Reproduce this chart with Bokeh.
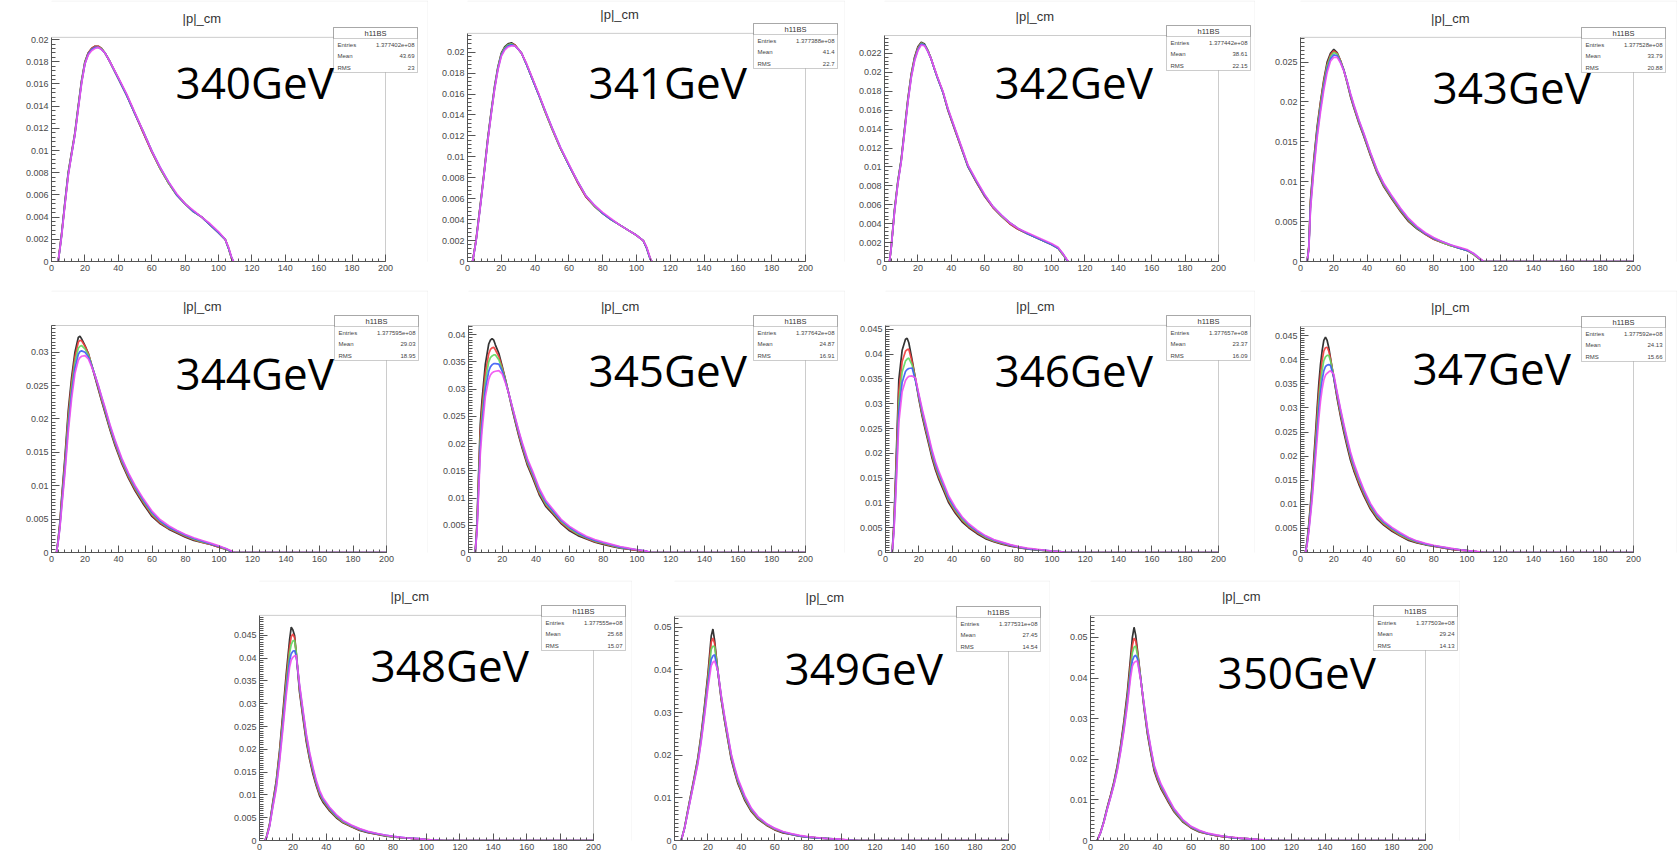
from bokeh.plotting import figure
from bokeh.models import FixedTicker, Label, BoxAnnotation, Spacer, Range1d, PrintfTickFormatter
from bokeh.layouts import row, column
from bokeh.embed import file_html
from bokeh.resources import INLINE

# ---------------- data (histogram values in units of 1e-4) ----------------
ENERGIES = ["340GeV", "341GeV", "342GeV", "343GeV", "344GeV", "345GeV",
            "346GeV", "347GeV", "348GeV", "349GeV", "350GeV"]
ENTRIES = ["1.377402e+08", "1.377388e+08", "1.377442e+08", "1.377528e+08",
           "1.377595e+08", "1.377642e+08", "1.377657e+08", "1.377592e+08",
           "1.377555e+08", "1.377531e+08", "1.377503e+08"]
MEANS = ["43.69", "41.4", "38.61", "33.79", "29.03", "24.87", "23.37",
         "24.13", "25.68", "27.45", "29.24"]
RMS = ["23", "22.7", "22.15", "20.88", "18.95", "16.91", "16.09", "15.66",
       "15.07", "14.54", "14.13"]
Y_MAX = [0.0202, 0.0218, 0.0239, 0.0281, 0.0340, 0.0417, 0.0458, 0.0469,
         0.0494, 0.0526, 0.0554]
X_TICKS = [0, 20, 40, 60, 80, 100, 120, 140, 160, 180, 200]

YT_340 = ["0", "0.002", "0.004", "0.006", "0.008", "0.01", "0.012", "0.014", "0.016", "0.018", "0.02"]
YT_341 = ["0", "0.002", "0.004", "0.006", "0.008", "0.01", "0.012", "0.014", "0.016", "0.018", "0.02"]
YT_342 = ["0", "0.002", "0.004", "0.006", "0.008", "0.01", "0.012", "0.014", "0.016", "0.018", "0.02", "0.022"]
YT_343 = ["0", "0.005", "0.01", "0.015", "0.02", "0.025"]
YT_344 = ["0", "0.005", "0.01", "0.015", "0.02", "0.025", "0.03"]
YT_345 = ["0", "0.005", "0.01", "0.015", "0.02", "0.025", "0.03", "0.035", "0.04"]
YT_346 = ["0", "0.005", "0.01", "0.015", "0.02", "0.025", "0.03", "0.035", "0.04", "0.045"]
YT_347 = ["0", "0.005", "0.01", "0.015", "0.02", "0.025", "0.03", "0.035", "0.04", "0.045"]
YT_348 = ["0", "0.005", "0.01", "0.015", "0.02", "0.025", "0.03", "0.035", "0.04", "0.045"]
YT_349 = ["0", "0.01", "0.02", "0.03", "0.04", "0.05"]
YT_350 = ["0", "0.01", "0.02", "0.03", "0.04", "0.05"]

X_340 = [4, 5, 6, 8, 10, 12, 14, 16, 18, 20, 22, 24, 26, 28, 30, 32, 35, 40, 45, 50, 55, 60, 65, 70, 75, 80, 85, 90, 95, 100, 104, 106, 108, 109]
K_340 = [0, 12, 24, 53, 80, 98, 116, 140, 163, 180, 188, 192, 194, 194, 192, 188, 180, 165, 150, 133, 116, 99, 84, 71, 60, 52, 45, 40, 33, 26, 20, 12, 2, 0]
R_340 = [0, 12, 24, 52, 79, 97, 115, 139, 162, 179, 188, 192, 194, 194, 192, 188, 180, 165, 150, 133, 116, 99, 84, 71, 60, 52, 45, 40, 33, 26, 20, 12, 2, 0]
G_340 = [0, 11, 23, 52, 79, 97, 115, 139, 162, 179, 187, 191, 193, 193, 192, 188, 180, 165, 150, 133, 117, 100, 84, 71, 60, 52, 45, 40, 33, 26, 20, 12, 2, 0]
B_340 = [0, 11, 23, 51, 78, 96, 114, 138, 161, 178, 187, 191, 193, 193, 191, 188, 180, 165, 150, 133, 117, 100, 85, 72, 60, 52, 45, 40, 33, 26, 20, 12, 3, 0]
M_340 = [0, 11, 22, 50, 77, 96, 114, 137, 160, 178, 186, 190, 192, 193, 191, 188, 180, 166, 151, 134, 117, 100, 85, 72, 61, 52, 46, 40, 34, 27, 20, 13, 3, 0]

X_341 = [3, 4, 5, 6, 8, 10, 12, 14, 16, 18, 20, 22, 24, 26, 28, 30, 32, 35, 38, 42, 46, 50, 55, 60, 65, 70, 75, 80, 85, 90, 95, 100, 104, 106, 108, 109]
K_341 = [0, 10, 20, 33, 60, 88, 118, 143, 167, 186, 199, 205, 208, 209, 207, 203, 199, 188, 176, 160, 143, 127, 108, 92, 76, 62, 53, 46, 40, 35, 30, 25, 20, 13, 3, 0]
R_341 = [0, 10, 20, 33, 59, 87, 117, 142, 166, 185, 198, 204, 207, 208, 207, 203, 199, 188, 176, 160, 143, 127, 108, 92, 76, 62, 53, 46, 40, 35, 30, 25, 20, 13, 3, 0]
G_341 = [0, 10, 19, 32, 59, 87, 116, 142, 166, 185, 198, 204, 207, 208, 206, 203, 199, 188, 176, 160, 143, 127, 108, 92, 77, 63, 53, 46, 40, 35, 30, 25, 20, 13, 3, 0]
B_341 = [0, 9, 19, 32, 58, 86, 116, 141, 165, 184, 197, 203, 206, 207, 206, 203, 199, 188, 176, 160, 144, 128, 109, 92, 77, 63, 54, 46, 40, 35, 30, 25, 20, 13, 3, 0]
M_341 = [0, 9, 19, 31, 58, 86, 115, 140, 164, 183, 196, 202, 205, 206, 206, 203, 199, 189, 177, 161, 144, 128, 109, 93, 77, 63, 54, 47, 41, 35, 30, 25, 20, 14, 4, 0]

X_342 = [3, 4, 5, 6, 8, 10, 12, 14, 16, 18, 20, 22, 24, 26, 28, 30, 32, 35, 38, 42, 46, 50, 55, 60, 65, 70, 75, 80, 85, 90, 95, 100, 104, 107, 109, 110]
K_342 = [0, 15, 35, 55, 85, 108, 140, 172, 198, 216, 227, 232, 230, 223, 214, 203, 193, 179, 160, 140, 120, 100, 84, 69, 57, 48, 40, 34, 30, 26, 22, 18, 14, 7, 2, 0]
R_342 = [0, 15, 34, 54, 84, 107, 139, 171, 197, 215, 226, 231, 229, 223, 214, 203, 193, 179, 160, 140, 120, 101, 84, 69, 57, 48, 40, 34, 30, 26, 22, 18, 14, 7, 2, 0]
G_342 = [0, 14, 34, 54, 84, 107, 138, 170, 196, 214, 225, 231, 229, 223, 214, 203, 193, 179, 161, 141, 121, 101, 85, 70, 58, 48, 41, 35, 30, 26, 22, 18, 14, 7, 2, 0]
B_342 = [0, 14, 33, 53, 83, 106, 137, 169, 195, 213, 224, 230, 229, 222, 214, 203, 193, 179, 161, 141, 121, 101, 85, 70, 58, 49, 41, 35, 30, 26, 22, 18, 14, 8, 2, 0]
M_342 = [0, 14, 33, 52, 82, 105, 136, 168, 194, 212, 223, 229, 228, 222, 214, 204, 194, 180, 162, 142, 122, 102, 86, 71, 58, 49, 41, 35, 31, 27, 23, 19, 15, 8, 3, 0]

X_343 = [4, 5, 6, 8, 10, 12, 14, 16, 18, 20, 22, 24, 26, 28, 30, 32, 35, 38, 42, 46, 50, 55, 60, 65, 70, 75, 80, 85, 90, 95, 100, 104, 107, 109, 110, 120, 140, 160, 180, 200]
K_343 = [0, 19, 77, 128, 169, 200, 228, 250, 261, 266, 262, 252, 240, 224, 207, 193, 174, 157, 133, 111, 94, 78, 63, 50, 41, 34, 28, 24, 20, 17, 14, 9, 4, 1, 0, 0, 0, 0, 0, 0]
R_343 = [0, 18, 74, 125, 166, 198, 226, 247, 259, 264, 261, 252, 240, 225, 208, 194, 175, 158, 134, 112, 95, 79, 64, 51, 42, 34, 28, 24, 20, 17, 14, 9, 4, 1, 0, 0, 0, 0, 0, 0]
G_343 = [0, 17, 71, 122, 163, 195, 223, 245, 257, 262, 260, 251, 240, 225, 209, 195, 176, 159, 135, 113, 96, 80, 65, 52, 42, 35, 29, 24, 20, 17, 14, 9, 4, 1, 0, 0, 0, 0, 0, 0]
B_343 = [0, 16, 68, 118, 159, 191, 219, 241, 254, 259, 258, 250, 240, 226, 210, 196, 177, 160, 136, 114, 97, 81, 66, 53, 43, 35, 29, 25, 21, 17, 14, 10, 5, 1, 0, 0, 0, 0, 0, 0]
M_343 = [0, 15, 65, 114, 155, 187, 215, 237, 251, 256, 256, 249, 239, 226, 211, 197, 178, 161, 137, 115, 98, 82, 67, 54, 44, 36, 30, 25, 21, 18, 15, 10, 5, 2, 0, 0, 0, 0, 0, 0]

X_344 = [3, 4, 5, 6, 8, 10, 12, 14, 16, 17, 18, 20, 22, 24, 26, 28, 30, 32, 35, 38, 42, 46, 50, 55, 60, 65, 70, 75, 80, 85, 90, 95, 100, 104, 107, 109, 110, 120, 140, 160, 180, 200]
K_344 = [0, 20, 45, 80, 142, 212, 262, 300, 322, 324, 320, 310, 298, 280, 262, 244, 226, 209, 183, 160, 133, 111, 92, 72, 54, 43, 35, 29, 23, 18, 15, 12, 8, 5, 2, 0, 0, 0, 0, 0, 0, 0]
R_344 = [0, 19, 42, 76, 136, 204, 255, 293, 315, 318, 317, 309, 298, 281, 264, 246, 228, 211, 185, 162, 135, 113, 94, 74, 56, 44, 36, 30, 24, 19, 15, 12, 8, 5, 2, 0, 0, 0, 0, 0, 0, 0]
G_344 = [0, 18, 40, 72, 130, 196, 247, 285, 306, 309, 310, 305, 296, 281, 265, 248, 230, 213, 187, 164, 137, 115, 96, 76, 58, 46, 37, 31, 25, 20, 16, 13, 9, 5, 2, 0, 0, 0, 0, 0, 0, 0]
B_344 = [0, 17, 38, 68, 124, 188, 238, 276, 297, 301, 302, 300, 293, 280, 265, 249, 232, 215, 189, 166, 139, 117, 98, 78, 60, 47, 38, 32, 26, 21, 17, 13, 9, 6, 2, 0, 0, 0, 0, 0, 0, 0]
M_344 = [0, 16, 36, 64, 118, 180, 230, 268, 288, 292, 294, 295, 290, 278, 265, 250, 233, 217, 191, 168, 141, 119, 100, 80, 62, 49, 40, 33, 27, 22, 18, 14, 10, 6, 3, 0, 0, 0, 0, 0, 0, 0]

X_345 = [4, 5, 6, 7, 8, 10, 12, 13, 14, 15, 16, 18, 20, 22, 24, 26, 28, 30, 32, 35, 38, 42, 46, 50, 55, 60, 65, 70, 75, 80, 85, 90, 95, 100, 105, 108, 110, 120, 140, 160, 180, 200]
K_345 = [0, 52, 144, 236, 279, 346, 383, 390, 393, 390, 381, 366, 342, 317, 290, 262, 237, 212, 190, 160, 138, 106, 84, 71, 53, 40, 31, 25, 19, 15, 11, 8, 6, 4, 2, 0, 0, 0, 0, 0, 0, 0]
R_345 = [0, 48, 135, 222, 265, 330, 365, 373, 376, 377, 372, 360, 340, 316, 291, 264, 239, 215, 193, 163, 141, 109, 87, 73, 55, 42, 33, 26, 20, 16, 12, 9, 6, 4, 2, 0, 0, 0, 0, 0, 0, 0]
G_345 = [0, 44, 126, 208, 250, 315, 350, 358, 361, 363, 363, 354, 337, 315, 291, 266, 241, 218, 196, 166, 144, 112, 89, 75, 57, 44, 34, 27, 21, 17, 13, 9, 7, 5, 2, 0, 0, 0, 0, 0, 0, 0]
B_345 = [0, 40, 117, 194, 236, 300, 333, 341, 345, 347, 347, 346, 333, 313, 291, 267, 243, 220, 198, 169, 147, 115, 92, 77, 59, 46, 36, 28, 22, 18, 14, 10, 7, 5, 3, 0, 0, 0, 0, 0, 0, 0]
M_345 = [0, 36, 108, 180, 222, 286, 318, 326, 330, 332, 333, 334, 328, 311, 291, 268, 245, 222, 201, 172, 150, 118, 95, 80, 61, 48, 38, 30, 24, 19, 15, 11, 8, 5, 3, 0, 0, 0, 0, 0, 0, 0]

X_346 = [4, 5, 6, 7, 8, 10, 12, 13, 14, 16, 18, 20, 22, 24, 26, 28, 30, 32, 35, 38, 42, 46, 50, 55, 60, 65, 70, 75, 80, 85, 90, 95, 100, 105, 108, 110, 120, 140, 160, 180, 200]
K_346 = [0, 57, 147, 248, 348, 408, 430, 432, 423, 388, 350, 310, 275, 246, 218, 190, 167, 148, 124, 100, 79, 62, 50, 38, 28, 22, 17, 13, 10, 7, 5, 4, 3, 1, 0, 0, 0, 0, 0, 0, 0]
R_346 = [0, 52, 135, 230, 325, 385, 406, 409, 410, 384, 350, 313, 279, 250, 222, 194, 171, 152, 128, 104, 82, 65, 52, 40, 30, 23, 18, 14, 10, 8, 6, 4, 3, 1, 0, 0, 0, 0, 0, 0, 0]
G_346 = [0, 47, 124, 212, 303, 364, 386, 390, 392, 378, 349, 315, 282, 254, 226, 198, 175, 156, 131, 107, 85, 67, 54, 42, 31, 24, 19, 15, 11, 8, 6, 4, 3, 2, 0, 0, 0, 0, 0, 0, 0]
B_346 = [0, 42, 113, 195, 282, 343, 365, 369, 371, 372, 346, 317, 286, 258, 230, 202, 179, 160, 135, 110, 88, 70, 56, 43, 33, 25, 20, 15, 11, 8, 6, 5, 3, 2, 0, 0, 0, 0, 0, 0, 0]
M_346 = [0, 38, 103, 179, 262, 324, 347, 352, 355, 356, 352, 320, 290, 262, 234, 206, 183, 164, 139, 114, 91, 72, 58, 45, 34, 26, 21, 16, 12, 9, 7, 5, 3, 2, 0, 0, 0, 0, 0, 0, 0]

X_347 = [3, 4, 5, 6, 7, 8, 9, 10, 11, 12, 13, 14, 15, 16, 17, 18, 20, 22, 24, 26, 28, 30, 32, 35, 38, 42, 46, 50, 55, 60, 65, 70, 75, 80, 85, 90, 95, 100, 105, 110, 120, 140, 160, 180, 200]
K_347 = [0, 25, 59, 100, 142, 195, 246, 300, 350, 390, 419, 440, 447, 440, 425, 404, 362, 320, 283, 250, 220, 192, 170, 142, 118, 90, 70, 57, 44, 34, 25, 20, 16, 13, 10, 7, 5, 4, 2, 0, 0, 0, 0, 0, 0]
R_347 = [0, 23, 55, 94, 134, 184, 233, 284, 332, 370, 398, 418, 425, 426, 418, 402, 364, 324, 288, 255, 225, 197, 174, 146, 121, 93, 73, 59, 46, 35, 27, 21, 17, 13, 10, 7, 5, 4, 2, 0, 0, 0, 0, 0, 0]
G_347 = [0, 21, 51, 88, 126, 173, 220, 268, 314, 351, 378, 398, 406, 409, 409, 398, 366, 328, 292, 259, 229, 201, 178, 150, 125, 96, 75, 61, 48, 37, 28, 22, 17, 14, 11, 8, 6, 4, 2, 0, 0, 0, 0, 0, 0]
B_347 = [0, 19, 47, 82, 118, 162, 207, 252, 296, 332, 358, 377, 386, 389, 390, 388, 364, 330, 296, 263, 233, 205, 182, 154, 128, 99, 78, 63, 50, 39, 30, 23, 18, 14, 11, 8, 6, 4, 2, 0, 0, 0, 0, 0, 0]
M_347 = [0, 17, 43, 76, 110, 151, 194, 236, 278, 313, 339, 358, 368, 372, 375, 377, 370, 333, 299, 267, 237, 209, 186, 157, 131, 102, 80, 65, 52, 41, 31, 24, 19, 15, 12, 9, 6, 4, 3, 0, 0, 0, 0, 0, 0]

X_348 = [3, 4, 6, 8, 10, 12, 14, 16, 18, 19, 20, 21, 22, 24, 26, 28, 30, 32, 34, 36, 38, 42, 46, 50, 55, 60, 65, 70, 75, 80, 85, 90, 95, 100, 105, 110, 120, 140, 160, 180, 200]
K_348 = [0, 5, 35, 85, 130, 197, 280, 365, 440, 468, 462, 450, 410, 325, 270, 217, 178, 146, 120, 98, 84, 65, 50, 39, 30, 22, 17, 14, 10, 8, 6, 5, 3, 2, 1, 0, 0, 0, 0, 0, 0]
R_348 = [0, 5, 34, 82, 126, 191, 271, 353, 425, 447, 453, 445, 412, 330, 275, 222, 182, 150, 123, 101, 87, 67, 52, 40, 31, 23, 18, 14, 11, 8, 6, 5, 3, 2, 1, 0, 0, 0, 0, 0, 0]
G_348 = [0, 5, 33, 79, 122, 185, 262, 342, 411, 430, 438, 439, 414, 335, 280, 227, 186, 154, 126, 104, 89, 69, 53, 41, 32, 24, 19, 15, 11, 8, 6, 5, 4, 2, 1, 0, 0, 0, 0, 0, 0]
B_348 = [0, 4, 31, 76, 117, 178, 252, 329, 394, 410, 415, 417, 405, 338, 284, 231, 190, 157, 129, 107, 91, 71, 55, 43, 33, 25, 19, 15, 12, 9, 7, 5, 4, 2, 1, 0, 0, 0, 0, 0, 0]
M_348 = [0, 4, 30, 73, 113, 172, 244, 318, 380, 396, 402, 405, 406, 342, 288, 235, 194, 161, 132, 110, 94, 73, 57, 44, 34, 26, 20, 16, 12, 9, 7, 5, 4, 2, 1, 0, 0, 0, 0, 0, 0]

X_349 = [4, 6, 8, 10, 12, 14, 16, 18, 20, 22, 23, 24, 26, 28, 30, 32, 34, 36, 38, 42, 46, 50, 55, 60, 65, 70, 75, 80, 85, 90, 95, 100, 105, 110, 120, 140, 160, 180, 200]
K_349 = [0, 30, 72, 112, 152, 194, 250, 317, 390, 480, 496, 470, 395, 330, 280, 235, 190, 160, 133, 95, 68, 50, 36, 25, 18, 14, 10, 8, 6, 5, 3, 2, 1, 0, 0, 0, 0, 0, 0]
R_349 = [0, 29, 70, 110, 149, 190, 245, 310, 382, 465, 475, 462, 395, 333, 283, 238, 194, 163, 136, 98, 70, 52, 37, 26, 19, 14, 10, 8, 6, 5, 3, 2, 1, 0, 0, 0, 0, 0, 0]
G_349 = [0, 29, 69, 108, 147, 187, 241, 305, 374, 448, 456, 455, 397, 336, 286, 241, 197, 166, 139, 100, 72, 53, 38, 27, 20, 15, 11, 8, 6, 5, 4, 2, 1, 0, 0, 0, 0, 0, 0]
B_349 = [0, 28, 67, 106, 144, 183, 236, 298, 365, 425, 433, 436, 396, 338, 289, 244, 200, 169, 142, 103, 74, 55, 39, 28, 20, 15, 11, 8, 6, 5, 4, 2, 1, 0, 0, 0, 0, 0, 0]
M_349 = [0, 28, 66, 104, 142, 180, 232, 292, 357, 410, 418, 421, 398, 340, 292, 247, 203, 172, 145, 106, 76, 56, 40, 29, 21, 16, 12, 9, 7, 5, 4, 3, 1, 0, 0, 0, 0, 0, 0]

X_350 = [4, 6, 8, 10, 12, 14, 16, 18, 20, 22, 24, 25, 26, 27, 28, 30, 32, 34, 36, 38, 40, 42, 46, 50, 55, 60, 65, 70, 75, 80, 85, 90, 95, 100, 105, 110, 120, 140, 160, 180, 200]
K_350 = [0, 20, 48, 82, 112, 145, 185, 235, 295, 365, 455, 500, 525, 505, 470, 398, 325, 262, 215, 172, 148, 128, 98, 70, 46, 31, 21, 16, 12, 9, 7, 5, 4, 2, 1, 0, 0, 0, 0, 0, 0]
R_350 = [0, 20, 47, 80, 110, 142, 181, 230, 288, 355, 440, 480, 498, 492, 465, 398, 328, 266, 219, 176, 151, 131, 100, 72, 48, 32, 22, 16, 12, 9, 7, 5, 4, 2, 1, 0, 0, 0, 0, 0, 0]
G_350 = [0, 19, 46, 79, 108, 140, 178, 226, 282, 347, 427, 462, 476, 479, 458, 398, 331, 270, 223, 180, 155, 134, 103, 74, 49, 33, 23, 17, 13, 10, 7, 5, 4, 2, 1, 0, 0, 0, 0, 0, 0]
B_350 = [0, 19, 46, 78, 107, 138, 175, 222, 276, 339, 414, 443, 453, 456, 448, 396, 333, 273, 226, 183, 158, 137, 105, 76, 51, 34, 24, 17, 13, 10, 7, 5, 4, 2, 1, 0, 0, 0, 0, 0, 0]
M_350 = [0, 19, 45, 77, 106, 136, 172, 218, 271, 332, 403, 429, 438, 441, 442, 394, 335, 276, 229, 186, 161, 140, 108, 78, 52, 35, 25, 18, 14, 10, 8, 6, 4, 3, 1, 0, 0, 0, 0, 0, 0]

PANEL_DATA = [
    (X_340, [K_340, R_340, G_340, B_340, M_340], YT_340),
    (X_341, [K_341, R_341, G_341, B_341, M_341], YT_341),
    (X_342, [K_342, R_342, G_342, B_342, M_342], YT_342),
    (X_343, [K_343, R_343, G_343, B_343, M_343], YT_343),
    (X_344, [K_344, R_344, G_344, B_344, M_344], YT_344),
    (X_345, [K_345, R_345, G_345, B_345, M_345], YT_345),
    (X_346, [K_346, R_346, G_346, B_346, M_346], YT_346),
    (X_347, [K_347, R_347, G_347, B_347, M_347], YT_347),
    (X_348, [K_348, R_348, G_348, B_348, M_348], YT_348),
    (X_349, [K_349, R_349, G_349, B_349, M_349], YT_349),
    (X_350, [K_350, R_350, G_350, B_350, M_350], YT_350),
]
UNIT = 1e-4
X_MAX = 200

# ---------------- layout / style ----------------
COLORS = ["#1e1e1e", "#f03c3c", "#5fd85f", "#3c5cf5", "#f050f0"]
SMALL_FONT = "Liberation Sans"
BIG_FONT = "Open Sans"
# (fig width, fig height, ROOT-frame border left, right, top, bottom, big label x, big label y)
LAYOUT = [
    (428, 290, 51, 43, 37, 28, 175, 81),
    (417, 290, 39, 40, 33, 28, 160, 81),
    (410, 290, 39, 37, 35, 29, 149, 81),
    (422, 290, 45, 44, 37, 28, 177, 86),
    (428, 290, 51, 42, 35, 28, 175, 82),
    (417, 290, 40, 40, 35, 28, 160, 79),
    (410, 290, 40, 37, 35, 27, 149, 79),
    (422, 290, 45, 44, 36, 28, 157, 77),
    (410, 286, 37, 39, 35, 25, 148, 84),
    (418, 286, 42, 42, 36, 24, 152, 87),
    (410, 286, 40, 35, 35, 26, 167, 91),
]


def canvas_box(l, r, t, b, **kw):
    return BoxAnnotation(left=l, right=r, top=t, bottom=b,
                         left_units="canvas", right_units="canvas",
                         top_units="canvas", bottom_units="canvas", **kw)


def canvas_label(x, y, text, **kw):
    return Label(x=x, y=y, x_units="canvas", y_units="canvas", text=text, **kw)


def make_panel(i):
    xs, series, ytl = PANEL_DATA[i]
    w, h, bl, br, bt, bb, lx, ly = LAYOUT[i]
    # the Bokeh frame extends to the top/right edges of the figure so that the
    # title and stats box (outside the ROOT frame) are not clipped
    x_end = X_MAX * (w - bl) / (w - bl - br)
    y_end = Y_MAX[i] * (h - bb) / (h - bb - bt)
    p = figure(width=w, height=h, output_backend="svg", toolbar_location=None,
               x_range=Range1d(0, x_end), y_range=Range1d(0, y_end),
               min_border_left=bl, min_border_right=0,
               min_border_top=0, min_border_bottom=bb)
    p.xgrid.visible = False
    p.ygrid.visible = False
    p.background_fill_color = "white"
    p.border_fill_color = "white"
    p.outline_line_color = None

    for ys, col in zip(series, COLORS):
        p.line(xs, [v * UNIT for v in ys], line_color=col, line_width=1.7, line_alpha=0.9)

    # ROOT frame box
    p.add_layout(BoxAnnotation(left=0, right=X_MAX, bottom=0, top=Y_MAX[i],
                               fill_alpha=0, line_color="#555555", line_width=1))

    xminor = list(range(0, X_MAX + 1, 4))
    p.xaxis.ticker = FixedTicker(ticks=X_TICKS, minor_ticks=xminor)
    p.xaxis.bounds = (0, X_MAX)
    yt = [float(s) for s in ytl]
    step = yt[1] - yt[0]
    nsub = 5 if abs(step - 0.002) < 1e-9 else 10
    yminor = []
    k = 0
    while k * step / nsub <= Y_MAX[i] + 1e-12:
        yminor.append(k * step / nsub)
        k += 1
    p.yaxis.ticker = FixedTicker(ticks=yt, minor_ticks=yminor)
    p.yaxis.formatter = PrintfTickFormatter(format="%g")
    p.yaxis.bounds = (0, Y_MAX[i])
    for ax in (p.xaxis[0], p.yaxis[0]):
        ax.axis_line_color = "#555555"
        ax.major_tick_line_color = "#555555"
        ax.minor_tick_line_color = "#555555"
        ax.major_tick_out = 0
        ax.minor_tick_out = 0
        ax.major_label_text_font = SMALL_FONT
        ax.major_label_text_font_size = "9px"
        ax.major_label_text_color = "#4a4a4a"
        ax.major_label_standoff = 3
    p.xaxis.major_tick_in = 7
    p.xaxis.minor_tick_in = 3
    p.yaxis.major_tick_in = 8
    p.yaxis.minor_tick_in = 4

    fl, fr, ft = bl, w - br, bt
    fw = fr - fl
    # screenshot border (top / right edges)
    p.add_layout(canvas_box(0.5, w - 0.5, 0.5, h - 0.5, fill_alpha=0,
                            line_color="#cfcfcf", line_width=1))
    # histogram title
    p.add_layout(canvas_label(fl + 0.45 * fw, ft - 19, "|p|_cm", text_font=SMALL_FONT,
                              text_font_size="13px", text_color="#333333",
                              text_align="center", text_baseline="middle"))
    # stats box
    sl, sr, st, sb = fr - 52, fr + 32, ft - 10, ft + 35
    p.add_layout(canvas_box(sl, sr, st, sb, fill_color="white", fill_alpha=1,
                            line_color="#555555", line_width=1))
    p.add_layout(canvas_box(sl, sr, st, st + 11, fill_alpha=0,
                            line_color="#555555", line_width=1))
    p.add_layout(canvas_label((sl + sr) / 2, st + 6, "h11BS", text_font=SMALL_FONT,
                              text_font_size="7.5px", text_color="#333333",
                              text_align="center", text_baseline="middle"))
    for j, (name, val) in enumerate([("Entries", ENTRIES[i]), ("Mean", MEANS[i]), ("RMS", RMS[i])]):
        yy = st + 17 + j * 11.5
        p.add_layout(canvas_label(sl + 4, yy, name, text_font=SMALL_FONT, text_font_size="6px",
                                  text_color="#444444", text_align="left", text_baseline="middle"))
        p.add_layout(canvas_label(sr - 3, yy, val, text_font=SMALL_FONT, text_font_size="6px",
                                  text_color="#444444", text_align="right", text_baseline="middle"))
    # big energy label
    p.add_layout(canvas_label(lx, ly, ENERGIES[i], text_font=BIG_FONT, text_font_size="44px",
                              text_color="black", text_align="left", text_baseline="alphabetic"))
    return p


panels = [make_panel(i) for i in range(11)]
layout = column(
    row(panels[0], panels[1], panels[2], panels[3]),
    row(panels[4], panels[5], panels[6], panels[7]),
    row(Spacer(width=222, height=286), panels[8], panels[9], panels[10]),
)

open("out.html", "w").write(file_html(layout, INLINE))
